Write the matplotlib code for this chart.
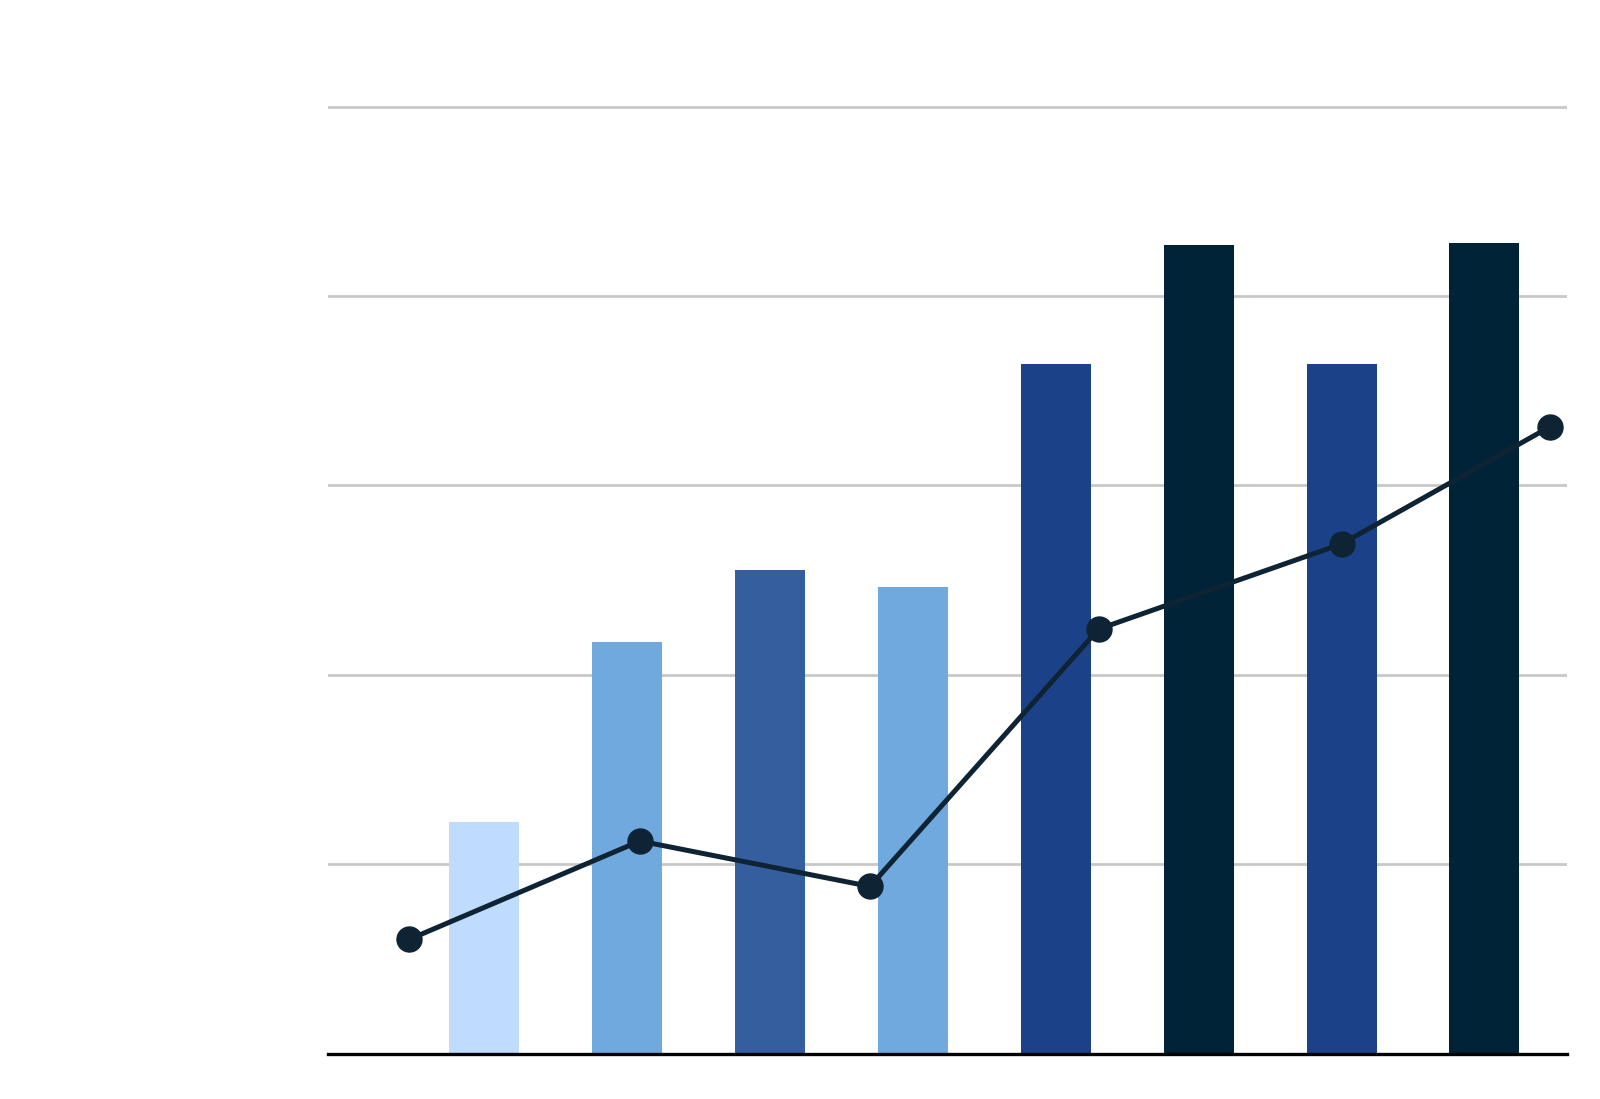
import numpy as np
import matplotlib
matplotlib.use('Agg')
import matplotlib.pyplot as plt

#bar data (8 unlabeled categories)
bar_values = [1.22, 2.17, 2.55, 2.46, 3.64, 4.27, 3.64, 4.28]
bar_colors = ['#BFDBFE', '#6FA9DD', '#345E9E', '#6FA9DD', '#1B4289', '#012337', '#1B4289', '#012337']

#line data, x in bar-index units
line_x = [-0.525, 1.09, 2.70, 4.30, 6.00, 7.46]
line_y = [0.60, 1.12, 0.88, 2.24, 2.69, 3.31]

grid_levels = [1, 2, 3, 4, 5]

fig = plt.figure(figsize=(16, 10.99), dpi=100)
ax = fig.add_axes([0.2047, 0.0419, 0.7749, 0.8781])

#gridlines behind the bars
for g in grid_levels:
    ax.axhline(g, color='#C8C8C8', linewidth=2, zorder=1)

ax.bar(np.arange(len(bar_values)), bar_values, width=0.49, color=bar_colors, zorder=2)

ax.plot(line_x, line_y, color='#0E2435', linewidth=3.6, marker='o',
        markersize=18, zorder=4)

#baseline
ax.axhline(-0.008, color='black', linewidth=2.4, zorder=3, clip_on=False)

ax.set_xlim(-1.096, 7.58)
ax.set_ylim(0, 5.1)
ax.set_xticks([])
ax.set_yticks([])
for s in ax.spines.values():
    s.set_visible(False)

plt.savefig('out.png', dpi=100)
